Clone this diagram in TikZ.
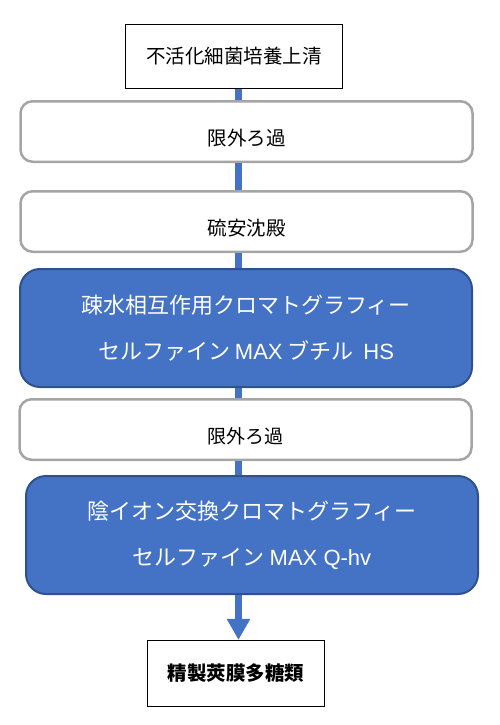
\documentclass[tikz,border=0pt]{standalone}
\usepackage{fontspec}
\setmainfont{Liberation Sans}
\newfontfamily\jpfont{Noto Sans CJK JP}
\usetikzlibrary{arrows.meta}
\definecolor{flowblue}{HTML}{4472C4}
\definecolor{blueedge}{HTML}{2F528F}
\definecolor{boxgray}{HTML}{A5A5A5}
\newcommand{\en}[1]{{\rmfamily #1}}
\begin{document}
\begin{tikzpicture}[
  endbox/.style={draw=black, line width=1.2pt, fill=white, inner sep=0pt,
    font=\jpfont\fontsize{19.5pt}{23pt}\selectfont},
  graybox/.style={draw=boxgray, line width=2.5pt, fill=white, rounded corners=12pt,
    minimum width=452pt, minimum height=60.5pt, inner sep=0pt,
    text height=27pt, text depth=0pt, font=\jpfont\fontsize{19.5pt}{23pt}\selectfont},
  bluebox/.style={draw=blueedge, line width=2pt, fill=flowblue, rounded corners=20pt,
    minimum width=452pt, minimum height=118pt, text=white, align=center,
    font=\jpfont\fontsize{22pt}{46pt}\selectfont},
  flow/.style={draw=flowblue, line width=7pt}
]
\useasboundingbox (0pt,0pt) rectangle (500pt,-725pt);
\coordinate (spine) at (238.5pt, 0pt);
\node[endbox, minimum width=217pt, minimum height=64pt] (supernatant) at (234pt,-56.5pt) {不活化細菌培養上清};
\node[graybox] (uf1) at (246.5pt,-131.5pt) {限外ろ過};
\node[graybox] (salting) at (246.5pt,-221.5pt) {硫安沈殿};
\node[bluebox] (hic) at (246pt,-328pt) {疎水相互作用クロマトグラフィー\\セルファイン \en{MAX} ブチル\ \ \en{HS}};
\node[graybox, font=\jpfont\fontsize{19pt}{23pt}\selectfont] (uf2) at (245.5pt,-429.5pt) {限外ろ過};
\node[bluebox] (aiex) at (252pt,-535pt) {陰イオン交換クロマトグラフィー\\セルファイン \en{MAX Q-hv}};
\node[endbox, minimum width=177pt, minimum height=66pt, font=\jpfont\bfseries\fontsize{19.5pt}{23pt}\selectfont] (product) at (236pt,-673.5pt) {精製莢膜多糖類};
\draw[flow] (spine |- supernatant.south) -- (spine |- uf1.north);
\draw[flow] (spine |- uf1.south) -- (spine |- salting.north);
\draw[flow] (spine |- salting.south) -- (spine |- hic.north);
\draw[flow] (spine |- hic.south) -- (spine |- uf2.north);
\draw[flow] (spine |- uf2.south) -- (spine |- aiex.north);
\draw[flow, -{Triangle[width=22pt, length=21pt]}] (spine |- aiex.south) -- (spine |- product.north);
\end{tikzpicture}
\end{document}
